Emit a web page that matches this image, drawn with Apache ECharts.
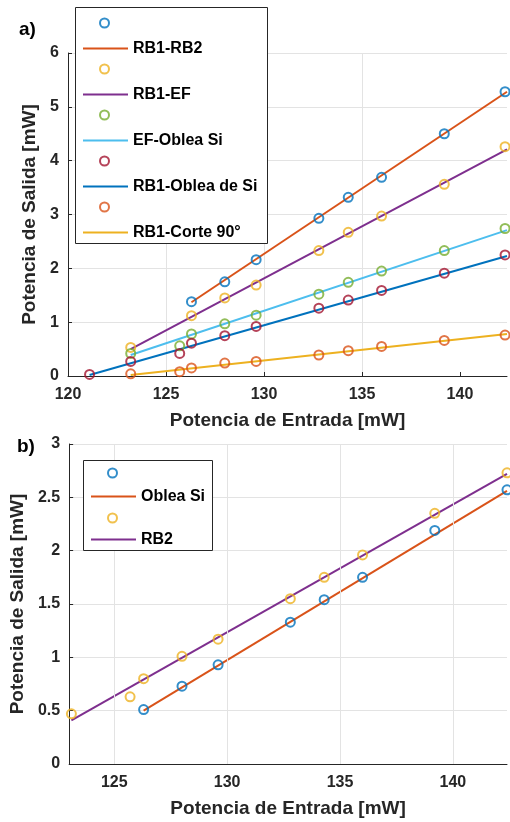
<!DOCTYPE html>
<html>
<head>
<meta charset="utf-8">
<script src="https://cdn.jsdelivr.net/npm/echarts@6/dist/echarts.min.js"></script>
<style>
html,body{margin:0;padding:0;background:#fff;}
#c{width:510px;height:822px;}
</style>
</head>
<body>
<div id="c"></div>
<script>
// ---------- data (a) ----------
const rb1rb2X = [126.3, 128.0, 129.6, 132.8, 134.3, 136.0, 139.2, 142.3];
const rb1rb2Y = [1.38, 1.75, 2.16, 2.93, 3.32, 3.69, 4.50, 5.28];
const rb1efX = [123.2, 126.3, 128.0, 129.6, 132.8, 134.3, 136.0, 139.2, 142.3];
const rb1efY = [0.53, 1.12, 1.45, 1.69, 2.33, 2.67, 2.97, 3.56, 4.26];
const efSiX = [123.2, 125.7, 126.3, 128.0, 129.6, 132.8, 134.3, 136.0, 139.2, 142.3];
const efSiY = [0.42, 0.56, 0.78, 0.97, 1.13, 1.52, 1.74, 1.95, 2.33, 2.74];
const rb1SiX = [121.1, 123.2, 125.7, 126.3, 128.0, 129.6, 132.8, 134.3, 136.0, 139.2, 142.3];
const rb1SiY = [0.03, 0.27, 0.42, 0.61, 0.75, 0.92, 1.26, 1.41, 1.59, 1.91, 2.25];
const c90X = [123.2, 125.7, 126.3, 128.0, 129.6, 132.8, 134.3, 136.0, 139.2, 142.3];
const c90Y = [0.04, 0.08, 0.15, 0.24, 0.27, 0.39, 0.47, 0.55, 0.66, 0.76];
// fit lines (endpoints)
const fitRb1rb2X = [126.3, 142.4], fitRb1rb2Y = [1.37, 5.28];
const fitRb1efX = [123.2, 142.4], fitRb1efY = [0.50, 4.21];
const fitEfSiX = [123.2, 142.4], fitEfSiY = [0.39, 2.71];
const fitRb1SiX = [121.1, 142.4], fitRb1SiY = [0.02, 2.23];
const fitC90X = [123.2, 142.4], fitC90Y = [0.02, 0.78];
const namesA = ['RB1-RB2', 'RB1-EF', 'EF-Oblea Si', 'RB1-Oblea de Si', 'RB1-Corte 90°'];

// ---------- data (b) ----------
const obleaX = [126.3, 128.0, 129.6, 132.8, 134.3, 136.0, 139.2, 142.4];
const obleaY = [0.51, 0.73, 0.93, 1.33, 1.54, 1.75, 2.19, 2.57];
const rb2X = [123.1, 125.7, 126.3, 128.0, 129.6, 132.8, 134.3, 136.0, 139.2, 142.4];
const rb2Y = [0.47, 0.63, 0.80, 1.01, 1.17, 1.55, 1.75, 1.96, 2.35, 2.73];
const fitObleaX = [126.3, 142.4], fitObleaY = [0.50, 2.56];
const fitRb2X = [123.1, 142.4], fitRb2Y = [0.41, 2.72];
const namesB = ['Oblea Si', 'RB2'];

// tick labels
const xTicksA = [120, 125, 130, 135, 140];
const xTicksB = [125, 130, 135, 140];
const yTicksA = [0, 1, 2, 3, 4, 5, 6];
const yTicksB = [0, 0.5, 1, 1.5, 2, 2.5, 3];

// ---------- styles ----------
const C = {blue:'#0072BD', orange:'#D95319', yellow:'#EDB120', purple:'#7E2F8E',
           green:'#77AC30', cyan:'#4DBEEE', red:'#A2142F'};
const FONT = 'Liberation Sans, Arial, Helvetica, sans-serif';
const AX = '#262626';
const GRIDC = '#e3e3e3';

function pts(xs, ys){ return xs.map((x,i)=>[x, ys[i]]); }
function scatter(name, xs, ys, color, idx){
  return {type:'scatter', name, xAxisIndex:idx, yAxisIndex:idx, data:pts(xs,ys),
    symbol:'circle', symbolSize:9,
    itemStyle:{color:'rgba(255,255,255,0)', borderColor:color, borderWidth:2},
    z:4, clip:false, silent:true};
}
function fitLine(name, xs, ys, color, idx){
  return {type:'line', name, xAxisIndex:idx, yAxisIndex:idx, data:pts(xs,ys),
    symbol:'none', lineStyle:{color, width:2}, itemStyle:{color}, z:3, silent:true};
}
function xAxis(gi, min, max, ticks){
  return {type:'value', gridIndex:gi, min, max,
    name:'Potencia de Entrada [mW]', nameLocation:'middle', nameGap:35,
    nameTextStyle:{fontFamily:FONT, fontSize:19, fontWeight:'bold', color:AX},
    axisLine:{show:true, lineStyle:{color:AX, width:1}},
    axisTick:{show:true, inside:true, length:4, lineStyle:{color:AX}, customValues:ticks},
    axisLabel:{fontFamily:FONT, fontSize:16, fontWeight:'bold', color:AX, margin:11,
      customValues:ticks},
    splitLine:{show:true, showMinLine:false, showMaxLine:false, lineStyle:{color:GRIDC, width:1}}};
}
function yAxis(gi, ticks){
  return {type:'value', gridIndex:gi, min:ticks[0], max:ticks[ticks.length-1],
    interval:ticks[1]-ticks[0],
    name:'Potencia de Salida [mW]', nameLocation:'middle', nameGap:25,
    nameTextStyle:{fontFamily:FONT, fontSize:19, fontWeight:'bold', color:AX},
    axisLine:{show:true, lineStyle:{color:AX, width:1}},
    axisTick:{show:true, inside:true, length:4, lineStyle:{color:AX}},
    axisLabel:{fontFamily:FONT, fontSize:16, fontWeight:'bold', color:AX, margin:9},
    splitLine:{show:true, lineStyle:{color:GRIDC, width:1}}};
}
function lineLegend(names, left, top, gap){
  return {show:true, orient:'vertical', left, top, padding:0, itemGap:gap,
    itemWidth:45, itemHeight:16, selectedMode:false, z:20,
    itemStyle:{opacity:0, borderWidth:0},
    data:names, textStyle:{fontFamily:FONT, fontSize:16, fontWeight:'bold', color:'#000'}};
}
function markLegend(names, left, top, gap){
  return {show:true, orient:'vertical', left, top, padding:0, itemGap:gap,
    itemWidth:45, itemHeight:9, selectedMode:false, z:20,
    data:names, formatter:()=> '', textStyle:{fontSize:6}};
}

const series = [
  scatter('a1', rb1rb2X, rb1rb2Y, C.blue, 0),  fitLine(namesA[0], fitRb1rb2X, fitRb1rb2Y, C.orange, 0),
  scatter('a2', rb1efX, rb1efY, C.yellow, 0),  fitLine(namesA[1], fitRb1efX, fitRb1efY, C.purple, 0),
  scatter('a3', efSiX, efSiY, C.green, 0),     fitLine(namesA[2], fitEfSiX, fitEfSiY, C.cyan, 0),
  scatter('a4', rb1SiX, rb1SiY, C.red, 0),     fitLine(namesA[3], fitRb1SiX, fitRb1SiY, C.blue, 0),
  scatter('a5', c90X, c90Y, C.orange, 0),      fitLine(namesA[4], fitC90X, fitC90Y, C.yellow, 0),
  scatter('b1', obleaX, obleaY, C.blue, 1),    fitLine(namesB[0], fitObleaX, fitObleaY, C.orange, 1),
  scatter('b2', rb2X, rb2Y, C.yellow, 1),      fitLine(namesB[1], fitRb2X, fitRb2Y, C.purple, 1),
  // vertical grid lines of panel (b), placed through the x scale
  {type:'line', name:'gridB', xAxisIndex:1, yAxisIndex:1, data:[], z:1, silent:true,
    markLine:{silent:true, symbol:['none','none'], label:{show:false},
      lineStyle:{color:GRIDC, width:1, type:'solid'}, animation:false,
      data:xTicksB.map(v=>({xAxis:v}))}}
];

const option = {
  animation:false,
  backgroundColor:'#fff',
  grid:[
    {left:68, top:53, width:439, height:323, containLabel:false},
    {left:67, top:444, width:440, height:320, containLabel:false}
  ],
  xAxis:[xAxis(0, 120, 142.4, xTicksA), xAxis(1, 123.0, 142.4, xTicksB)],
  yAxis:[yAxis(0, yTicksA), yAxis(1, yTicksB)],
  legend:[
    lineLegend(namesA, 82, 40.5, 30),
    markLegend(['a1','a2','a3','a4','a5'], 82, 17.5, 35),
    lineLegend(namesB, 90, 488.5, 27),
    markLegend(['b1','b2'], 90, 467.5, 34)
  ],
  graphic:[
    {type:'rect', z:10, shape:{x:75.5, y:7.5, width:192, height:236},
      style:{fill:'#fff', stroke:'#262626', lineWidth:1}},
    {type:'rect', z:10, shape:{x:83.5, y:460.5, width:129, height:90},
      style:{fill:'#fff', stroke:'#262626', lineWidth:1}},
    {type:'text', z:10, left:19, top:20, style:{text:'a)', font:'bold 19px '+FONT, fill:'#000'}},
    {type:'text', z:10, left:17, top:437, style:{text:'b)', font:'bold 19px '+FONT, fill:'#000'}}
  ],
  series
};
const chart = echarts.init(document.getElementById('c'), null, {renderer:'canvas'});
chart.setOption(option);
</script>
</body>
</html>
